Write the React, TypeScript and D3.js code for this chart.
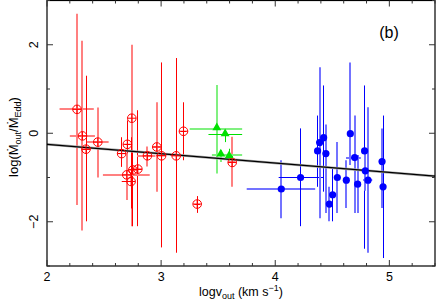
import * as d3 from "d3";

// red: open circles
const redLogV = [2.263, 2.311, 2.342, 2.445, 2.654, 2.704, 2.743, 2.752, 2.796, 2.699, 2.737, 2.880, 2.962, 3.004, 3.132, 3.196, 3.316, 3.623];
const redLogM = [0.54, -0.06, -0.36, -0.20, -0.46, -0.25, 0.34, -0.83, -0.81, -0.94, -1.09, -0.51, -0.31, -0.51, -0.51, 0.045, -1.60, -0.66];
const redVRange = [[2.11, 2.41], [2.20, 2.42], [2.31, 2.38], [2.35, 2.54], [2.62, 2.69], [2.68, 2.73], [2.743, 2.743], [2.72, 2.80], [2.77, 2.83], [2.49, 2.90], [2.655, 2.77], [2.79, 2.95], [2.93, 2.99], [2.96, 3.04], [3.08, 3.18], [3.17, 3.22], [3.29, 3.34], [3.59, 3.65]];
const redMRange = [[-1.62, 2.70], [-2.20, 2.09], [-1.99, 1.30], [-1.0, 0.58], [-0.76, -0.09], [-1.2, 0.29], [-2.1, 2.0], [-2.1, -0.4], [-2.1, 0.52], [-1.51, -0.45], [-1.7, -0.09], [-0.75, -0.3], [-1.32, 0.70], [-2.58, 1.60], [-2.70, 1.70], [-0.61, 0.70], [-1.80, -1.42], [-1.21, -0.08]];
const redFaint = [true, true, false, true, false, false, true, false, false, true, false, true, true, false, false, false, false, true];

// green: triangles
const greenLogV = [3.488, 3.561, 3.523, 3.596];
const greenLogM = [0.105, -0.03, -0.49, -0.53];
const greenVRange = [[3.25, 3.71], [3.415, 3.71], [3.445, 3.71], [3.57, 3.63]];
const greenMRange = [[-0.91, 1.09], [-0.2, 0.07], [-0.65, -0.38], [-0.62, -0.35]];
const greenFaint = [true, false, true, false];

// blue: filled circles
const blueLogV = [4.053, 4.222, 4.371, 4.389, 4.424, 4.444, 4.474, 4.503, 4.544, 4.623, 4.658, 4.696, 4.722, 4.783, 4.789, 4.813, 4.936, 4.945];
const blueLogM = [-1.26, -1.0, -0.40, -0.21, -0.10, -0.46, -1.60, -1.39, -1.0, -1.06, -0.01, -0.55, -1.15, -0.40, -0.85, -1.06, -0.64, -1.21];
const blueVRange = [[3.75, 4.35], [4.03, 4.42], [4.35, 4.39], [4.389, 4.389], [4.424, 4.424], [4.444, 4.444], [4.474, 4.474], [4.503, 4.503], [4.544, 4.544], [4.623, 4.623], [4.658, 4.658], [4.62, 4.75], [4.722, 4.722], [4.783, 4.783], [4.789, 4.789], [4.77, 4.85], [4.936, 4.936], [4.945, 4.945]];
const blueMRange = [[-1.92, -0.61], [-2.1, 0.11], [-1.21, 0.40], [-1.92, 1.49], [-1.32, 1.08], [-1.80, 0.20], [-1.99, -1.21], [-1.99, -0.79], [-1.80, -0.2], [-1.69, -0.61], [-0.72, 1.60], [-1.80, 0.40], [-1.80, -0.49], [-2.61, 1.08], [-1.3, -0.45], [-2.70, 0.59], [-1.69, 0.11], [-2.82, 0.40]];
const blueFaint = [true, false, false, true, false, true, true, false, true, true, true, true, true, false, true, true, true, false];

// linear fit
const fitSlope = -0.212;
const fitIntercept = 0.174;

const xTicks = [2, 3, 4, 5];
const yTicks = [-2, 0, 2];

const W = 436, H = 300;
const font = "'Liberation Sans', Arial, sans-serif";

// snap a 1px line to the pixel grid so thin bars stay crisp
const snap = (v: number) => Math.round(v - 0.5) + 0.5;

export default function App() {
  const x = d3.scaleLinear().domain([2, 5.4]).range([47, 435]);
  const y = d3.scaleLinear().domain([-3, 3]).range([266, 0.5]);
  const [x0, x1] = x.range();
  const [y0, y1] = y.range();

  const xMinor = d3.range(2, 5.41, 0.2).filter(v => Math.abs(v - Math.round(v)) > 1e-6);
  const yMinor = [-3, -1, 1, 3];

  const line = d3.line<number>().x(d => x(d)).y(d => y(fitIntercept + fitSlope * d));

  const errBars = (
    key: string, vs: number[], ms: number[], vr: number[][], mr: number[][], faint: boolean[],
    dark: string, light: string
  ) => vs.map((v, i) => {
    const c = faint[i] ? light : dark;
    const w = faint[i] ? 2 : 1;
    const xv = faint[i] ? Math.round(x(v)) : snap(x(v));
    const ym = faint[i] ? Math.round(y(ms[i])) : snap(y(ms[i]));
    return (
      <g key={key + i} stroke={c} strokeWidth={w}>
        <line x1={xv} x2={xv} y1={y(mr[i][0])} y2={y(mr[i][1])} />
        <line x1={x(vr[i][0])} x2={x(vr[i][1])} y1={ym} y2={ym} />
      </g>
    );
  });

  const tri = d3.symbol().type(d3.symbolTriangle).size(34)();

  return (
    <svg width={W} height={H} style={{ position: "absolute", left: 0, top: 0, background: "#fff" }} fontFamily={font}>
      {/* error bars */}
      {errBars("r", redLogV, redLogM, redVRange, redMRange, redFaint, "#ff0000", "#ff8080")}
      {errBars("g", greenLogV, greenLogM, greenVRange, greenMRange, greenFaint, "#00e000", "#80f080")}
      {errBars("b", blueLogV, blueLogM, blueVRange, blueMRange, blueFaint, "#0000ff", "#7373ff")}

      {/* fit */}
      <path d={line([2, 5.4]) ?? ""} stroke="#aaa" strokeWidth={2.6} fill="none" />
      <path d={line([2, 5.4]) ?? ""} stroke="#000" strokeWidth={1.3} fill="none" />

      {/* markers */}
      {redLogV.map((v, i) => (
        <g key={"rm" + i} stroke="#ff0000" strokeWidth={1} fill="none">
          <circle cx={x(v)} cy={y(redLogM[i])} r={4.3} />
          <line x1={x(v) - 4.3} x2={x(v) + 4.3} y1={y(redLogM[i])} y2={y(redLogM[i])} />
          <line x1={x(v)} x2={x(v)} y1={y(redLogM[i]) - 4.3} y2={y(redLogM[i]) + 4.3} />
        </g>
      ))}
      {greenLogV.map((v, i) => (
        <path key={"gm" + i} d={tri ?? ""} transform={`translate(${x(v)},${y(greenLogM[i]) - 1})`} fill="#00e000" />
      ))}
      {blueLogV.map((v, i) => (
        <circle key={"bm" + i} cx={x(v)} cy={y(blueLogM[i])} r={3.6} fill="#0000ff" />
      ))}

      {/* frame */}
      <rect x={x0} y={y1} width={x1 - x0} height={y0 - y1} fill="none" stroke="#000" strokeWidth={1.2} />

      {/* ticks */}
      <g stroke="#333" strokeWidth={1}>
        {xTicks.map(t => (
          <g key={"xt" + t}>
            <line x1={x(t)} x2={x(t)} y1={y0} y2={y0 - 6} />
            <line x1={x(t)} x2={x(t)} y1={y1} y2={y1 + 6} />
          </g>
        ))}
        {xMinor.map(t => (
          <g key={"xm" + t}>
            <line x1={x(t)} x2={x(t)} y1={y0} y2={y0 - 3} />
            <line x1={x(t)} x2={x(t)} y1={y1} y2={y1 + 3} />
          </g>
        ))}
        {yTicks.map(t => (
          <g key={"yt" + t}>
            <line x1={x0} x2={x0 + 6} y1={y(t)} y2={y(t)} />
            <line x1={x1} x2={x1 - 6} y1={y(t)} y2={y(t)} />
          </g>
        ))}
        {yMinor.map(t => (
          <g key={"ym" + t}>
            <line x1={x0} x2={x0 + 3} y1={y(t)} y2={y(t)} />
            <line x1={x1} x2={x1 - 3} y1={y(t)} y2={y(t)} />
          </g>
        ))}
      </g>

      {/* tick labels */}
      <g fontSize={12.5} fill="#000" textAnchor="middle">
        {xTicks.map(t => (
          <text key={"xl" + t} x={x(t)} y={280.5}>{t}</text>
        ))}
        {yTicks.map(t => (
          <text key={"yl" + t} transform={`translate(38,${y(t)}) rotate(-90)`}>{t < 0 ? "\u2212" + Math.abs(t) : t}</text>
        ))}
      </g>

      {/* axis titles */}
      <text x={241} y={296} fontSize={12.5} textAnchor="middle">
        logv<tspan fontSize={9} dy={3}>out</tspan><tspan dy={-3}> (km s</tspan><tspan fontSize={9} dy={-5}>{"\u22121"}</tspan><tspan dy={5}>)</tspan>
      </text>
      <text transform={`translate(18,137) rotate(-90)`} fontSize={13} textAnchor="middle">
        log({"\u1E40"}<tspan fontSize={9} dy={3}>out</tspan><tspan dy={-3}>/{"\u1E40"}</tspan><tspan fontSize={9} dy={3}>Edd</tspan><tspan dy={-3}>)</tspan>
      </text>

      <text x={389} y={38} fontSize={16} textAnchor="middle">(b)</text>
    </svg>
  );
}
